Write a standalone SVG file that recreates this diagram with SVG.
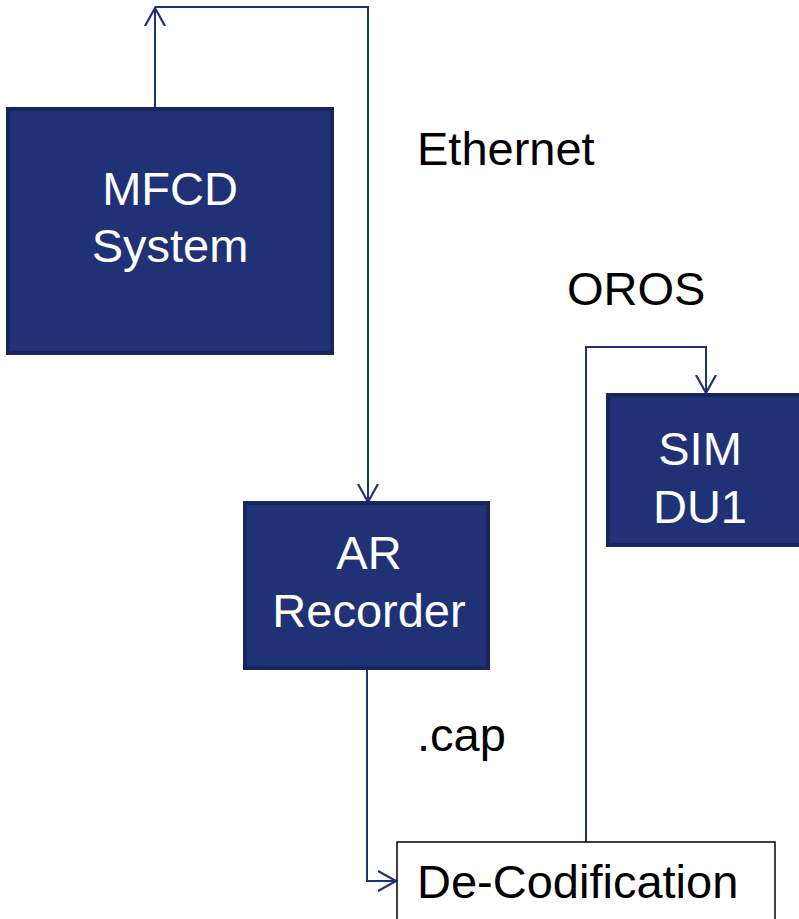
<svg xmlns="http://www.w3.org/2000/svg" width="799" height="919" viewBox="0 0 799 919">
<defs>
<style>
.box{fill:#203275;stroke:#18265c;stroke-width:4}
.wbox{fill:#ffffff;stroke:#000000;stroke-width:1.5}
.lbl{font-family:"Liberation Sans",Arial,sans-serif;font-size:47px;text-anchor:middle;fill:#ffffff}
.txt{font-family:"Liberation Sans",Arial,sans-serif;font-size:47px;fill:#000000}
.conn{fill:none;stroke:#203275;stroke-width:2}
</style>
<marker id="arr" markerUnits="userSpaceOnUse" markerWidth="22" markerHeight="24" refX="18" refY="10" orient="auto" viewBox="0 0 22 20">
<path d="M0,0 L18,10 L0,20" fill="none" stroke="#203275" stroke-width="2.2"/>
</marker>
</defs>
<rect width="799" height="919" fill="#ffffff"/>
<g id="connectors">
<path class="conn" d="M155,108 L155,8" marker-end="url(#arr)"/>
<path class="conn" d="M155,7 L368,7 L368,502" marker-end="url(#arr)"/>
<path class="conn" d="M367,669 L367,881 L396,881" marker-end="url(#arr)"/>
<path class="conn" d="M586,842 L586,347 L706,347 L706,393" marker-end="url(#arr)"/>
</g>
<g id="mfcd">
<rect class="box" x="8" y="109" width="324" height="244"/>
<text class="lbl" x="170" y="205">MFCD</text>
<text class="lbl" x="170" y="262">System</text>
</g>
<g id="ar">
<rect class="box" x="245" y="503" width="243" height="165"/>
<text class="lbl" x="369" y="569">AR</text>
<text class="lbl" x="369" y="627">Recorder</text>
</g>
<g id="sim">
<rect class="box" x="608" y="395" width="200" height="150"/>
<text class="lbl" x="700" y="465">SIM</text>
<text class="lbl" x="700" y="523">DU1</text>
</g>
<g id="decod">
<rect class="wbox" x="397" y="842" width="378" height="90"/>
<text class="txt" x="417" y="898">De-Codification</text>
</g>
<g id="labels">
<text class="txt" x="417" y="165">Ethernet</text>
<text class="txt" x="567" y="305">OROS</text>
<text class="txt" x="417" y="751">.cap</text>
</g>
</svg>
